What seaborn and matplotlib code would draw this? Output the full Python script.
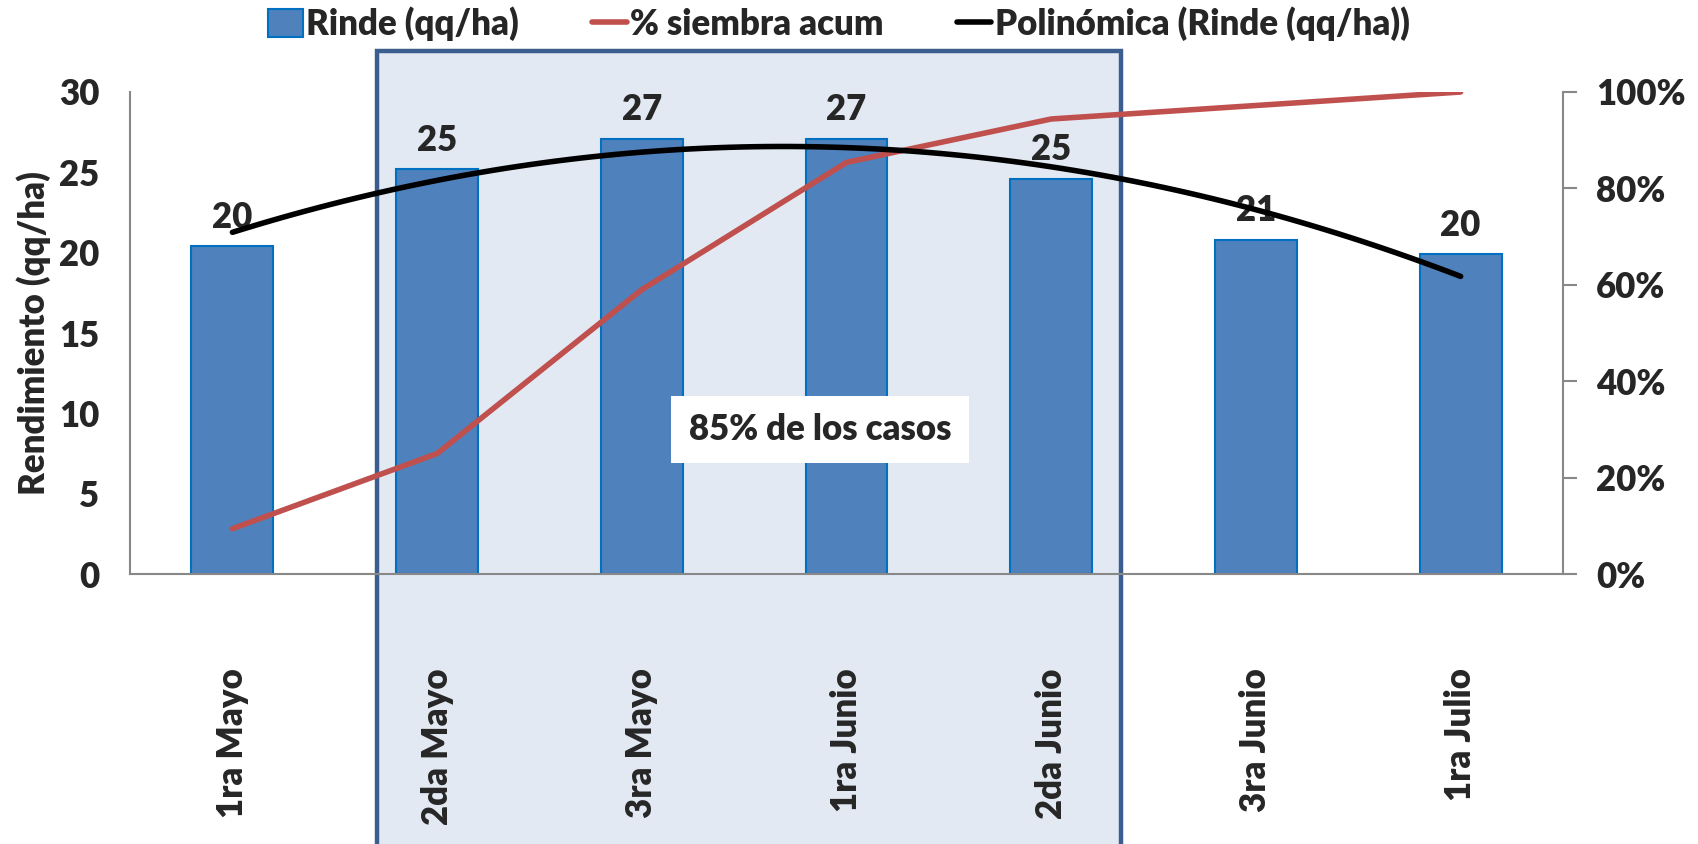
import matplotlib
matplotlib.use("Agg")
import matplotlib.pyplot as plt
import seaborn as sns
import numpy as np
from matplotlib.patches import Rectangle, Patch
from matplotlib.lines import Line2D
from matplotlib.ticker import PercentFormatter

# Data
periodos = ["1ra Mayo", "2da Mayo", "3ra Mayo", "1ra Junio", "2da Junio", "3ra Junio", "1ra Julio"]
rinde = [20.4, 25.2, 27.1, 27.1, 24.6, 20.8, 19.9]
siembra_acum = [0.094, 0.25, 0.59, 0.854, 0.944, 0.972, 1.0]
nota = "85% de los casos"

sns.set_style("white")
plt.rcParams["font.family"] = ["Lato", "DejaVu Sans"]
plt.rcParams["font.weight"] = "heavy"
FS = 25

fig = plt.figure(figsize=(16.98, 8.44), dpi=100)
ax = fig.add_axes([0.0766, 0.3199, 0.9205 - 0.0766, 0.891 - 0.3199])
ax.patch.set_visible(False)

# highlighted period (behind the chart)
fig.add_artist(Rectangle((0.222, -0.02), 0.438, 0.9596, transform=fig.transFigure,
                         facecolor="#E2E9F3", edgecolor="#3C5E8E", linewidth=3.2, zorder=-1))

pos = np.arange(len(periodos))

# bars
sns.barplot(x=periodos, y=rinde, ax=ax, color="#4F81BD", width=0.4,
            edgecolor="#0070C0", linewidth=1.5, saturation=1)
ax.bar_label(ax.containers[0], fmt="%.0f", padding=9, fontsize=FS, fontweight="heavy")
ax.set_ylim(0, 30)
ax.set_xlim(-0.5, len(periodos) - 0.5)
ax.set_yticks(range(0, 31, 5))
ax.set_ylabel("Rendimiento (qq/ha)", fontsize=FS, fontweight="heavy", labelpad=6)
ax.set_xlabel("")
ax.tick_params(axis="y", length=0, labelsize=FS, pad=22)
ax.tick_params(axis="x", length=0, labelsize=FS, pad=68, labelrotation=90)
for s in ["top", "right"]:
    ax.spines[s].set_visible(False)
for s in ["left", "bottom"]:
    ax.spines[s].set_color("#888888")
    ax.spines[s].set_linewidth(1.5)

# cumulative sowing on right axis
ax2 = ax.twinx()
sns.lineplot(x=pos, y=siembra_acum, ax=ax2, color="#C0504D", linewidth=4, legend=False)
ax2.set_ylim(0, 1)
ax2.set_yticks(np.arange(0, 1.01, 0.2))
ax2.yaxis.set_major_formatter(PercentFormatter(1.0, decimals=0))
ax2.tick_params(axis="y", length=10, width=1.5, color="#888888", labelsize=FS, pad=14)
ax2.set_ylabel("")
for s in ["top", "left", "bottom"]:
    ax2.spines[s].set_visible(False)
ax2.spines["right"].set_color("#888888")
ax2.spines["right"].set_linewidth(1.5)
ax2.text(2.87, 0.30, nota, ha="center", va="center", fontsize=FS, fontweight="heavy",
         bbox=dict(boxstyle="square,pad=0.5", facecolor="white", edgecolor="none"))

# polynomial trend of yield
ax3 = ax.twinx()
sns.regplot(x=pos, y=np.array(rinde), order=2, ci=None, scatter=False, truncate=True,
            ax=ax3, line_kws=dict(color="black", linewidth=4, solid_capstyle="round"))
ax3.set_ylim(0, 30)
ax3.set_xlim(-0.5, len(periodos) - 0.5)
ax3.axis("off")

handles = [Patch(facecolor="#4F81BD", edgecolor="#0070C0", linewidth=1.5),
           Line2D([], [], color="#C0504D", linewidth=4),
           Line2D([], [], color="black", linewidth=4)]
labels = ["Rinde (qq/ha)", "% siembra acum", "Polinómica (Rinde (qq/ha))"]
fig.legend(handles, labels, loc="center", bbox_to_anchor=(0.494, 0.972), ncol=3,
           frameon=False, fontsize=FS, handlelength=1.0, handleheight=0.9,
           handletextpad=0.1, columnspacing=2.1)

fig.savefig("out.png", dpi=100)
